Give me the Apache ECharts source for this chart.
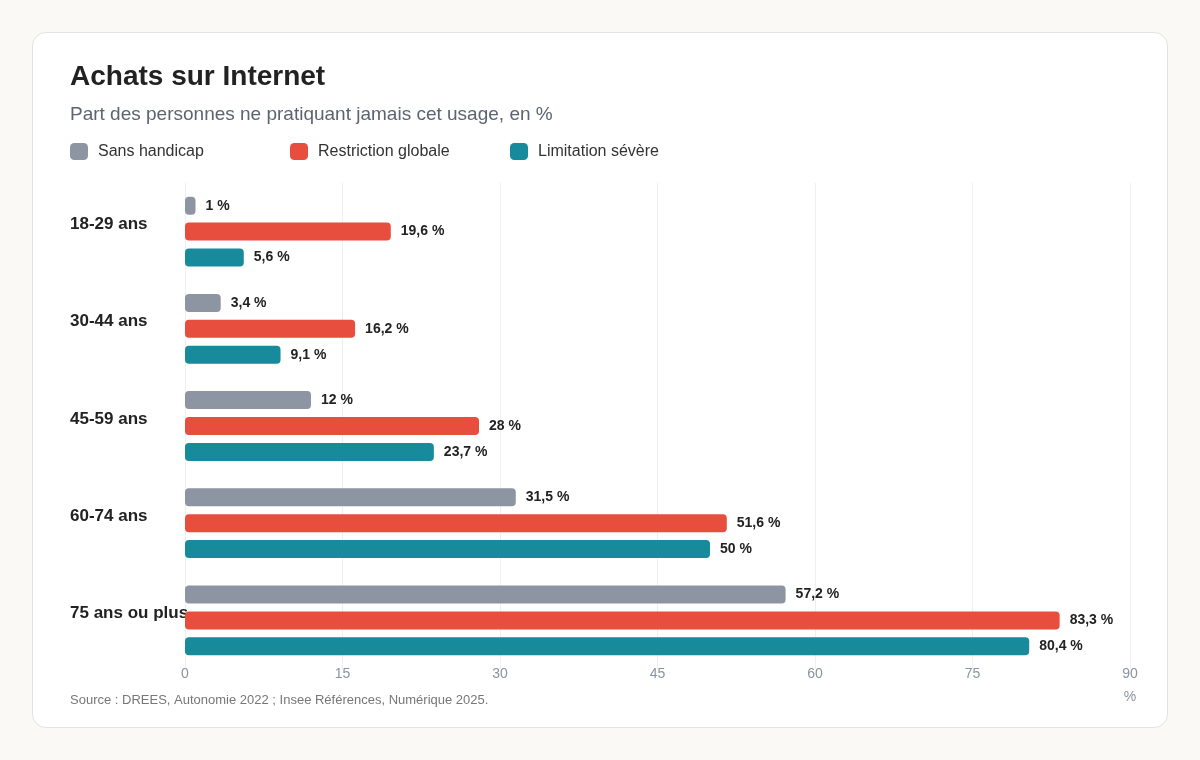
<!DOCTYPE html>
<html>
<head>
<meta charset="utf-8">
<script src="https://cdn.jsdelivr.net/npm/echarts@6/dist/echarts.min.js"></script>
<style>
  html, body { margin: 0; padding: 0; background: #faf9f6; }
  #card {
    position: absolute; left: 32px; top: 32px; width: 1134px; height: 694px;
    background: #fff; border: 1px solid #e3e3e3; border-radius: 14px;
  }
  #chart { position: absolute; left: 0; top: 0; width: 1200px; height: 760px; }
</style>
</head>
<body>
<div id="card"></div>
<div id="chart"></div>
<script>
var categories = ['18-29 ans', '30-44 ans', '45-59 ans', '60-74 ans', '75 ans ou plus'];
var seriesNames = ['Sans handicap', 'Restriction globale', 'Limitation sévère'];
var sansHandicap = [1, 3.4, 12, 31.5, 57.2];
var restrictionGlobale = [19.6, 16.2, 28, 51.6, 83.3];
var limitationSevere = [5.6, 9.1, 23.7, 50, 80.4];
var xTicks = [0, 15, 30, 45, 60, 75, 90];

var colors = ['#8c95a1', '#e84e3e', '#178b9c'];
var fontFam = '"Liberation Sans", Arial, Helvetica, sans-serif';

function fmt(v) {
    return String(v).replace('.', ',') + ' %';
}

function makeSeries(name, data, color) {
    return {
        name: name,
        type: 'bar',
        data: data,
        barWidth: 18,
        barGap: '44%',
        itemStyle: { color: color, borderRadius: 4 },
        label: {
            show: true,
            position: 'right',
            distance: 10,
            fontFamily: fontFam,
            fontSize: 14,
            fontWeight: 'bold',
            color: '#222',
            formatter: function (p) { return fmt(p.value); }
        }
    };
}

function makeLegend(i, left) {
    return {
        data: [seriesNames[i]],
        left: left,
        top: 143,
        padding: 0,
        itemWidth: 18,
        itemHeight: 17,
        icon: 'roundRect',
        textStyle: { fontFamily: fontFam, fontSize: 16, color: '#333', padding: [0, 0, 0, 5] }
    };
}

var myChart = echarts.init(document.getElementById('chart'));
var option = {
    backgroundColor: 'transparent',
    title: [
        {
            text: 'Achats sur Internet',
            subtext: 'Part des personnes ne pratiquant jamais cet usage, en %',
            left: 70,
            top: 63,
            padding: 0,
            itemGap: 14,
            textStyle: { fontFamily: fontFam, fontSize: 28, fontWeight: 'bold', color: '#222' },
            subtextStyle: { fontFamily: fontFam, fontSize: 19, color: '#5b6470' }
        },
        {
            text: 'Source : DREES, Autonomie 2022 ; Insee Références, Numérique 2025.',
            left: 70,
            top: 694,
            padding: 0,
            textStyle: { fontFamily: fontFam, fontSize: 13, fontWeight: 'normal', color: '#777' }
        }
    ],
    legend: [makeLegend(0, 70), makeLegend(1, 290), makeLegend(2, 510)],
    grid: { left: 185, right: 70, top: 183, height: 486, containLabel: false },
    xAxis: {
        type: 'value',
        min: 0,
        max: 90,
        interval: 15,
        name: '%',
        nameLocation: 'end',
        nameGap: 0,
        nameTextStyle: {
            fontFamily: fontFam, fontSize: 14, color: '#8a93a0',
            align: 'center', verticalAlign: 'top', padding: [21, 0, 0, 0]
        },
        axisLine: { show: false },
        axisTick: { show: false },
        axisLabel: {
            margin: -2,
            fontFamily: fontFam,
            fontSize: 14,
            color: '#8a93a0',
            formatter: function (v) { return xTicks.indexOf(v) >= 0 ? String(v) : ''; }
        },
        splitLine: { lineStyle: { color: '#efefef', width: 1 } }
    },
    yAxis: {
        type: 'category',
        data: categories,
        inverse: true,
        axisLine: { show: false },
        axisTick: { show: false },
        axisLabel: {
            margin: 115,
            align: 'left',
            verticalAlign: 'bottom',
            lineHeight: 14,
            fontFamily: fontFam,
            fontSize: 17,
            fontWeight: 'bold',
            color: '#222'
        }
    },
    series: [
        makeSeries(seriesNames[0], sansHandicap, colors[0]),
        makeSeries(seriesNames[1], restrictionGlobale, colors[1]),
        makeSeries(seriesNames[2], limitationSevere, colors[2])
    ]
};
myChart.setOption(option);
</script>
</body>
</html>
